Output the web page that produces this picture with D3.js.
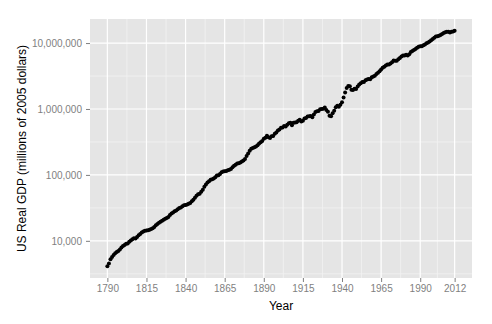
<!DOCTYPE html>
<html>
<head>
<meta charset="utf-8">
<script src="https://cdn.jsdelivr.net/npm/d3@7"></script>
<style>
  body { margin: 0; background: #fff; }
  text { font-family: "Liberation Sans", Arial, sans-serif; }
</style>
</head>
<body>
<div id="chart"></div>
<script>
// annual US real GDP, millions of dollars, 1790 - 2012
var startYear = 1790;
var gdp = [
  4120, 4550, 5250, 5690, 6100, 6460, 6760, 7000, 7410, 7940,
  8320, 8610, 9020, 9120, 9660, 10120, 10590, 10960, 10840, 11480,
  12160, 12740, 13340, 13800, 14190, 14390, 14520, 14720, 15140, 15490,
  16220, 17180, 17990, 18840, 19500, 20180, 20890, 21630, 22130, 22910,
  24550, 26000, 26920, 28180, 28840, 30200, 31480, 31990, 33500, 34510,
  35080, 35480, 36480, 37580, 39810, 42170, 45190, 48420, 50700, 51880,
  55590, 59570, 66070, 71620, 76740, 80350, 84140, 86100, 88100, 92260,
  97720, 98860, 103500, 109600, 112200, 113500, 114800, 117500, 120200, 123000,
  130300, 138000, 142900, 149600, 150700, 154900, 160300, 166000, 173800, 192800,
  211300, 231700, 248300, 257000, 263000, 269200, 281800, 298500, 312600, 327300,
  354800, 367300, 393600, 371500, 363100, 384600, 389000, 421700, 441600, 473200,
  489800, 518800, 524800, 549500, 543300, 575400, 609500, 616600, 568900, 616600,
  623700, 631000, 660700, 683900, 645700, 661000, 716000, 728000, 767000, 776000,
  785000, 750000, 822000, 901600, 922600, 933000, 988600, 1000000, 1011600, 1056600,
  966700, 904800, 788200, 778300, 862200, 939000, 1060500, 1114600, 1077700, 1163600,
  1266100, 1490300, 1771800, 2073700, 2239400, 2217800, 1960900, 1939400, 2020000, 2008900,
  2184000, 2360000, 2456100, 2571400, 2556900, 2739000, 2797400, 2856300, 2835300, 3031000,
  3108700, 3188100, 3383100, 3530400, 3734000, 3976700, 4238900, 4355200, 4569000, 4712500,
  4722000, 4877600, 5134300, 5424100, 5396000, 5385400, 5675400, 5937000, 6267200, 6466200,
  6450400, 6617700, 6491300, 6792000, 7285000, 7593800, 7860500, 8132600, 8474500, 8786400,
  8955000, 8948400, 9266600, 9521000, 9905400, 10174800, 10561000, 11034900, 11525900, 12065900,
  12559700, 12682200, 12908800, 13271100, 13773500, 14234200, 14613800, 14873700, 14830400, 14418700,
  14783800, 15020600, 15354600
];
var yearTicks = [1790, 1815, 1840, 1865, 1890, 1915, 1940, 1965, 1990, 2012];
var gdpTicks = [10000, 100000, 1000000, 10000000];

var data = gdp.map(function (v, i) {
  return { year: startYear + i, value: v };
});

var width = 492, height = 324;
var panel = { left: 90, right: 472, top: 19, bottom: 278 };

var svg = d3.select("#chart").append("svg")
  .attr("width", width)
  .attr("height", height);

// ggplot style 5% expansion on both axes
var xExt = d3.extent(data, function (d) { return d.year; });
var xPad = (xExt[1] - xExt[0]) * 0.05;
var x = d3.scaleLinear()
  .domain([xExt[0] - xPad, xExt[1] + xPad])
  .range([panel.left, panel.right]);

var lExt = d3.extent(data, function (d) { return Math.log10(d.value); });
var lPad = (lExt[1] - lExt[0]) * 0.05;
var y = d3.scaleLog()
  .domain([Math.pow(10, lExt[0] - lPad), Math.pow(10, lExt[1] + lPad)])
  .range([panel.bottom, panel.top]);

// minor breaks sit half way between the major ones
var xMinor = d3.pairs(yearTicks).map(function (p) { return (p[0] + p[1]) / 2; });
var yMinor = [];
gdpTicks.concat([gdpTicks[gdpTicks.length - 1] * 10]).forEach(function (t) {
  var m = t / Math.sqrt(10);
  if (m >= y.domain()[0] && m <= y.domain()[1]) yMinor.push(m);
});

svg.append("rect")
  .attr("x", panel.left)
  .attr("y", panel.top)
  .attr("width", panel.right - panel.left)
  .attr("height", panel.bottom - panel.top)
  .attr("fill", "#e5e5e5");

var grid = svg.append("g").attr("class", "grid");

grid.selectAll(".xminor").data(xMinor).enter().append("line")
  .attr("x1", x).attr("x2", x)
  .attr("y1", panel.top).attr("y2", panel.bottom)
  .attr("stroke", "#f2f2f2").attr("stroke-width", 0.8);

grid.selectAll(".yminor").data(yMinor).enter().append("line")
  .attr("y1", y).attr("y2", y)
  .attr("x1", panel.left).attr("x2", panel.right)
  .attr("stroke", "#f2f2f2").attr("stroke-width", 0.8);

grid.selectAll(".xmajor").data(yearTicks).enter().append("line")
  .attr("x1", x).attr("x2", x)
  .attr("y1", panel.top).attr("y2", panel.bottom)
  .attr("stroke", "#ffffff").attr("stroke-width", 1.2);

grid.selectAll(".ymajor").data(gdpTicks).enter().append("line")
  .attr("y1", y).attr("y2", y)
  .attr("x1", panel.left).attr("x2", panel.right)
  .attr("stroke", "#ffffff").attr("stroke-width", 1.2);

// points
svg.append("g")
  .selectAll("circle")
  .data(data)
  .enter()
  .append("circle")
  .attr("cx", function (d) { return x(d.year); })
  .attr("cy", function (d) { return y(d.value); })
  .attr("r", 2)
  .attr("fill", "#000");

// axes
var xAxis = svg.append("g")
  .attr("transform", "translate(0," + panel.bottom + ")")
  .call(d3.axisBottom(x).tickValues(yearTicks).tickFormat(d3.format("d"))
    .tickSize(4).tickPadding(3));

var yAxis = svg.append("g")
  .attr("transform", "translate(" + panel.left + ",0)")
  .call(d3.axisLeft(y).tickValues(gdpTicks).tickFormat(d3.format(","))
    .tickSize(4).tickPadding(4));

[xAxis, yAxis].forEach(function (a) {
  a.select(".domain").remove();
  a.selectAll(".tick line").attr("stroke", "#7f7f7f");
  a.selectAll(".tick text")
    .attr("fill", "#7f7f7f")
    .style("font-size", "10px")
    .style("font-family", "'Liberation Sans', Arial, sans-serif");
});

svg.append("text")
  .attr("x", (panel.left + panel.right) / 2)
  .attr("y", 310)
  .attr("text-anchor", "middle")
  .style("font-size", "12px")
  .text("Year");

svg.append("text")
  .attr("transform", "translate(26," + (panel.top + panel.bottom) / 2 + ") rotate(-90)")
  .attr("text-anchor", "middle")
  .style("font-size", "12px")
  .text("US Real GDP (millions of 2005 dollars)");
</script>
</body>
</html>
